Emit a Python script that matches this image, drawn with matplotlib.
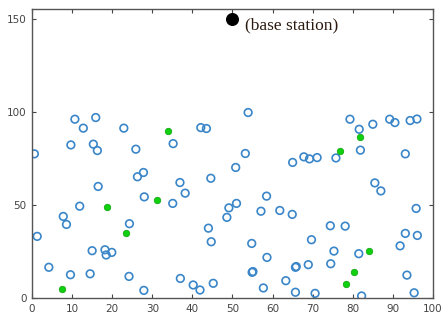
import matplotlib
matplotlib.use("Agg")
import matplotlib.pyplot as plt

# sensor nodes (open blue circles)
node_x = [10.7, 15.9, 12.8, 22.9, 42.1, 43.5, 9.7, 15.3, 16.3, 25.9, 35.2, 0.6,
          53.9, 79.3, 81.6, 85.0, 89.2, 90.5, 94.3, 96.0, 81.9, 93.1, 53.2, 65.0,
          67.8, 69.2, 71.1, 75.8, 50.8,
          27.8, 26.3, 16.5, 36.9, 44.6, 38.2, 28.0, 35.1, 11.9, 49.1, 48.6, 7.8,
          8.6, 24.3, 44.0, 44.7, 1.3, 15.0, 18.2, 18.5, 19.9, 4.2, 9.6, 14.5,
          24.2, 37.0, 40.2, 41.9, 45.2, 27.9,
          85.5, 87.0, 58.5, 51.0, 57.1, 61.8, 64.9, 95.8, 74.4, 78.1, 69.7, 54.8,
          93.1, 96.1, 91.8, 75.3, 81.5, 58.6, 54.9, 55.1, 65.7, 65.9, 68.9, 74.5,
          93.5, 63.3, 57.7, 65.7, 70.6, 82.2, 95.3]
node_y = [96.0, 96.9, 91.2, 91.2, 91.5, 91.0, 82.2, 82.6, 79.2, 79.9, 82.9, 77.4,
          99.6, 96.0, 90.6, 93.3, 96.0, 94.2, 95.3, 96.1, 79.4, 77.4, 77.6, 72.8,
          75.8, 74.7, 75.4, 75.2, 70.1,
          67.4, 65.1, 59.9, 62.0, 64.3, 56.3, 54.3, 50.8, 49.3, 48.4, 43.3, 43.8,
          39.5, 39.9, 37.5, 30.2, 33.1, 25.4, 25.9, 23.1, 24.5, 16.5, 12.5, 13.0,
          11.6, 10.5, 7.0, 4.3, 7.9, 4.1,
          61.8, 57.5, 54.7, 50.8, 46.6, 47.0, 44.9, 48.1, 38.8, 38.6, 31.3, 29.3,
          34.7, 33.6, 28.0, 25.2, 23.8, 21.8, 13.8, 14.2, 16.5, 16.9, 17.9, 18.4,
          12.3, 9.3, 5.4, 3.1, 2.5, 1.1, 2.8]

# cluster heads (filled green)
head_x = [33.9, 76.7, 81.9, 31.2, 18.7, 23.5, 7.6, 84.1, 80.2, 78.2]
head_y = [89.9, 79.2, 86.5, 52.4, 48.6, 34.9, 5.0, 25.0, 13.8, 7.5]

# base station
base_x = [50]
base_y = [150]
base_label = "(base station)"

x_ticks = [0, 10, 20, 30, 40, 50, 60, 70, 80, 90, 100]
y_ticks = [0, 50, 100, 150]

fig = plt.figure(figsize=(4.43, 3.22), dpi=100)
ax = fig.add_axes([0.0722, 0.0745, 0.9052, 0.8965])

ax.scatter(node_x, node_y, s=30, facecolors="none", edgecolors="#3a86c8",
           linewidths=1.2, zorder=2)
ax.scatter(head_x, head_y, s=22, color="#10d010", edgecolors="#0aa00a",
           linewidths=0.5, zorder=3)
ax.scatter(base_x, base_y, s=70, color="black", zorder=4)
ax.text(53.1, 146.4, base_label, fontsize=12.5, family="Liberation Serif",
        ha="left", va="center", color="#2a1a10")

ax.set_xlim(0, 100)
ax.set_ylim(0, 155)
ax.set_xticks(x_ticks)
ax.set_yticks(y_ticks)
ax.tick_params(direction="in", length=3, width=0.8, labelsize=7.5,
               colors="#444444", top=True, right=True, pad=4)
for sp in ax.spines.values():
    sp.set_color("#555555")
    sp.set_linewidth(1.0)

fig.savefig("out.png", dpi=100)
